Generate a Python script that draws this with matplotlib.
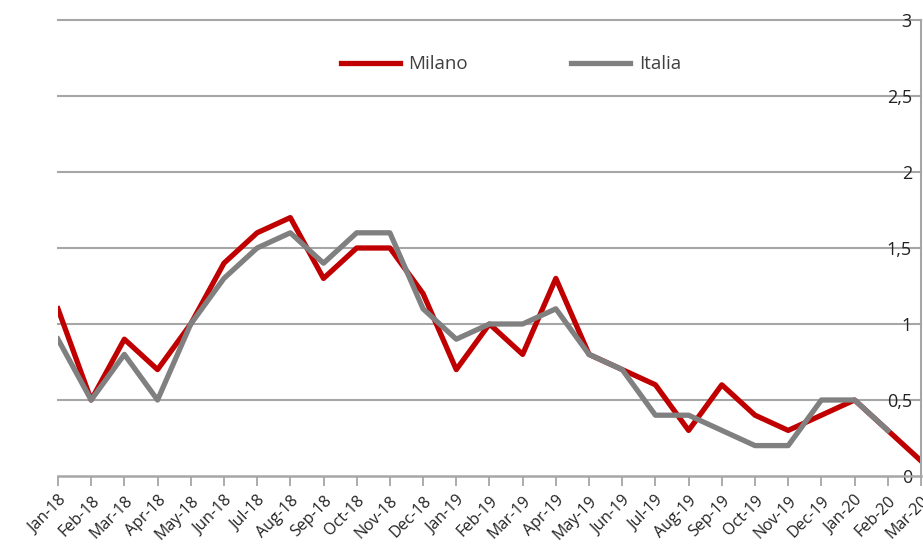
import numpy as np
import matplotlib
matplotlib.use("Agg")
import matplotlib.pyplot as plt

months = ["Jan-18", "Feb-18", "Mar-18", "Apr-18", "May-18", "Jun-18", "Jul-18",
          "Aug-18", "Sep-18", "Oct-18", "Nov-18", "Dec-18", "Jan-19", "Feb-19",
          "Mar-19", "Apr-19", "May-19", "Jun-19", "Jul-19", "Aug-19", "Sep-19",
          "Oct-19", "Nov-19", "Dec-19", "Jan-20", "Feb-20", "Mar-20"]
milano = [1.1, 0.5, 0.9, 0.7, 1.0, 1.4, 1.6, 1.7, 1.3, 1.5, 1.5, 1.2, 0.7, 1.0,
          0.8, 1.3, 0.8, 0.7, 0.6, 0.3, 0.6, 0.4, 0.3, 0.4, 0.5, 0.3, 0.1]
italia = [0.9, 0.5, 0.8, 0.5, 1.0, 1.3, 1.5, 1.6, 1.4, 1.6, 1.6, 1.1, 0.9, 1.0,
          1.0, 1.1, 0.8, 0.7, 0.4, 0.4, 0.3, 0.2, 0.2, 0.5, 0.5, 0.3]
y_ticks = [0, 0.5, 1, 1.5, 2, 2.5, 3]
y_labels = ["0", "0,5", "1", "1,5", "2", "2,5", "3"]

plt.rcParams["font.family"] = ["Open Sans", "DejaVu Sans"]

fig = plt.figure(figsize=(9.23, 5.45), dpi=100)
ax = fig.add_axes([0.0628, 0.1266, 0.935, 0.8367])

x = np.arange(len(months))
for yv in y_ticks[1:]:
    ax.axhline(yv, color="#a6a6a6", lw=1.5, zorder=1, clip_on=False)

ax.plot(x, milano, color="#c00000", lw=3.8, label="Milano", zorder=2)
ax.plot(x[:len(italia)], italia, color="#808080", lw=3.8, label="Italia", zorder=3)

ax.set_xlim(0, len(months) - 1)
ax.set_ylim(0, 3)
ax.set_xticks(x)
ax.set_xticklabels(months, rotation=45, ha="right", rotation_mode="anchor",
                   fontsize=11.5, color="#222222")
ax.set_yticks(y_ticks)
ax.set_yticklabels(y_labels)

ax.tick_params(axis="y", left=False, right=False, labelleft=False, labelright=True,
               pad=-10, labelsize=13, labelcolor="#222222")
for tk in ax.yaxis.get_major_ticks():
    tk.label2.set_horizontalalignment("right")
    tk.label2.set_zorder(5)
ax.tick_params(axis="x", direction="out", length=7, width=1.3, color="#a6a6a6", pad=5)

for side in ["top", "left"]:
    ax.spines[side].set_visible(False)
ax.spines["right"].set_color("#a6a6a6")
ax.spines["right"].set_linewidth(1.5)
ax.spines["bottom"].set_color("#a6a6a6")
ax.spines["bottom"].set_linewidth(1.8)

leg = ax.legend(loc="upper center", bbox_to_anchor=(0.525, 0.96), ncol=2,
                frameon=False, fontsize=13.5, handlelength=3.15, columnspacing=5.5,
                handletextpad=0.48)
for t in leg.get_texts():
    t.set_color("#404040")

fig.savefig("out.png", dpi=100)
